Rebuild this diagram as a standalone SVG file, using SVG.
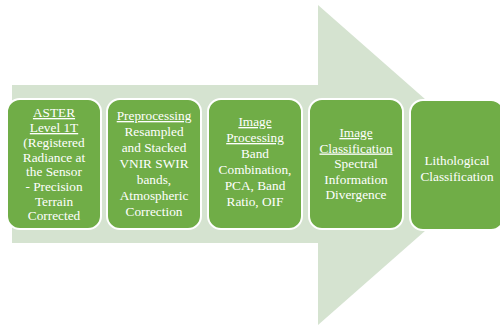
<svg xmlns="http://www.w3.org/2000/svg" width="500" height="326" viewBox="0 0 500 326">
<style>
.box{fill:#70ad47;stroke:#ffffff;stroke-width:2}
.t{font-family:"Liberation Serif","Times New Roman",serif;font-size:13.3px;fill:#ffffff;text-anchor:middle}
.u{text-decoration:underline}
</style>
<rect width="500" height="326" fill="#ffffff"/>
<g id="arrow">
<polygon points="12,85 318,85 318,5 500,165 318,325 318,243 12,243" fill="#d5e3d0"/>
</g>
<g id="connectors"></g>
<g id="n1">
<rect class="box" x="7" y="99" width="94" height="130" rx="13"/>
<text class="t"><tspan class="u" x="54" y="117">ASTER</tspan><tspan class="u" x="54" y="132">Level 1T</tspan><tspan x="54" y="147">(Registered</tspan><tspan x="54" y="161.5">Radiance at</tspan><tspan x="54" y="176">the Sensor</tspan><tspan x="54" y="191">- Precision</tspan><tspan x="54" y="205.5">Terrain</tspan><tspan x="54" y="220">Corrected</tspan></text>
</g>
<g id="n2">
<rect class="box" x="107" y="99" width="94" height="130" rx="13"/>
<text class="t"><tspan class="u" x="154" y="120">Preprocessing</tspan><tspan x="154" y="136">Resampled</tspan><tspan x="154" y="152">and Stacked</tspan><tspan x="154" y="168">VNIR SWIR</tspan><tspan x="154" y="184">bands,</tspan><tspan x="154" y="200">Atmospheric</tspan><tspan x="154" y="216">Correction</tspan></text>
</g>
<g id="n3">
<rect class="box" x="208" y="99" width="94" height="130" rx="13"/>
<text class="t"><tspan class="u" x="255" y="126">Image</tspan><tspan class="u" x="255" y="142">Processing</tspan><tspan x="255" y="158">Band</tspan><tspan x="255" y="174">Combination,</tspan><tspan x="255" y="190">PCA, Band</tspan><tspan x="255" y="206">Ratio, OIF</tspan></text>
</g>
<g id="n4">
<rect class="box" x="309" y="99" width="94" height="130" rx="13"/>
<text class="t"><tspan class="u" x="356" y="137">Image</tspan><tspan class="u" x="356" y="152.5">Classification</tspan><tspan x="356" y="168">Spectral</tspan><tspan x="356" y="183.5">Information</tspan><tspan x="356" y="199">Divergence</tspan></text>
</g>
<g id="n5">
<rect class="box" x="410" y="100" width="94" height="130" rx="13"/>
<text class="t"><tspan x="457" y="165">Lithological</tspan><tspan x="457" y="180.5">Classification</tspan></text>
</g>
</svg>
